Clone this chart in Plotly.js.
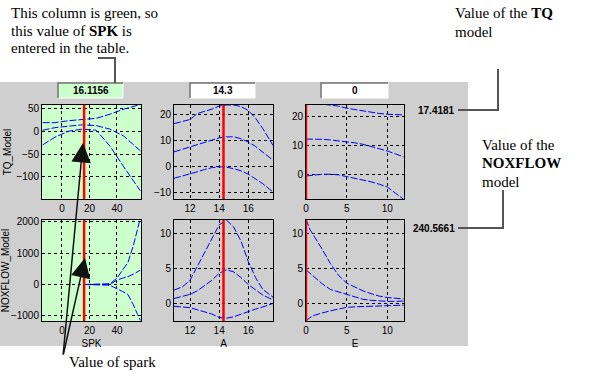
<!DOCTYPE html>
<html><head><meta charset="utf-8">
<script src="https://cdn.plot.ly/plotly-3.0.1.min.js"></script>
<style>html,body{margin:0;padding:0;background:#fff}</style>
</head><body><div id="chart" style="width:594px;height:379px"></div>
<script>
// ---------- data ----------
const factorNames = ["SPK", "A", "E"];
const responseNames = ["TQ_Model", "NOXFLOW_Model"];
const factorValues = [16.1156, 14.3, 0];
const factorValueLabels = ["16.1156", "14.3", "0"];
const responseValueLabels = ["17.4181", "240.5661"];

// TQ vs SPK
const spkTQ = [-14, -5, 5, 15, 25, 35, 45, 57];
const tqSpkMid = [2, 7.6, 10.9, 13.7, 12, 4.3, -10.9, -42.8];
const tqSpkHi = [18.5, 18.5, 22.8, 26, 28, 37, 48, 58];
const tqSpkLo = [-30, -13, 0, 4.3, 2, -33, -78, -130];

// TQ vs A
const aGrid = [10.9, 11.5, 12, 12.5, 13, 13.5, 14, 14.5, 15, 15.5, 16, 16.5, 17, 17.7];
const tqAHi = [16.4, 17.2, 18, 20.3, 21, 22, 23.2, 23.6, 23.6, 23, 21.5, 18.5, 14.5, 8];
const tqAMid = [5.5, 6.6, 7.4, 8.4, 9.3, 10, 10.9, 11.3, 11.3, 10.6, 9.3, 7.6, 5.5, 2.3];
const tqALo = [-4.7, -3.8, -3.2, -2.2, -1.3, -0.6, -0.3, -0.4, -1.0, -1.8, -3.1, -5.0, -6.8, -10];

// TQ vs E
const eGridTQ = [0, 1, 2, 3, 4, 5, 6, 7, 8, 9, 10, 11, 12];
const tqEHi = [24.8, 24.5, 24.1, 23.7, 23.4, 22.7, 22.2, 21.7, 21.3, 20.9, 20.6, 20.5, 20.4];
const tqEMid = [12.1, 12.1, 12, 11.8, 11.5, 11.2, 10.8, 10.3, 9.6, 8.8, 8, 7, 6];
const tqELo = [-0.6, -0.3, 0, 0, -0.2, -0.8, -1.4, -1.9, -2.6, -3.4, -4.4, -6.5, -8.6];

// NOXFLOW vs SPK
const spkNOX = [16.1156, 25, 33, 36, 40, 44, 48, 52, 55, 57];
const noxSpkMid = [0, 0, 5, 30, 140, 200, 250, 330, 400, 455];
const noxSpkHi = [0, 0, 20, 60, 200, 455, 700, 1250, 1750, 2100];
const noxSpkLo = [0, 0, -20, -50, -130, -220, -320, -650, -950, -1140];

// NOXFLOW vs A
const noxAHi = [1.9, 2.4, 3.3, 5.3, 7.2, 9.2, 11.2, 11.9, 10.9, 8.9, 6.0, 3.7, 2.0, 0.9];
const noxAMid = [0.7, 1.0, 1.3, 1.8, 2.5, 3.3, 4.3, 4.8, 4.5, 3.7, 2.7, 1.9, 1.2, 0.5];
const noxALo = [-0.4, -0.5, -0.6, -0.9, -1.2, -1.5, -2.0, -2.1, -1.9, -1.5, -1.1, -0.8, -0.5, 0];

// NOXFLOW vs E
const eGridNOX = [0, 0.5, 1, 1.5, 2, 3, 4, 5, 6, 7, 8, 9, 10, 11, 12];
const noxEHi = [12, 10.5, 9.6, 8.7, 7.7, 5.7, 4.0, 2.9, 2.3, 1.8, 1.4, 1.05, 0.85, 0.72, 0.65];
const noxEMid = [4.8, 4.3, 3.7, 3.2, 2.8, 2.0, 1.65, 1.2, 0.9, 0.6, 0.45, 0.35, 0.3, 0.3, 0.35];
const noxELo = [-2.5, -2.0, -1.7, -1.5, -1.35, -1.05, -0.75, -0.55, -0.48, -0.43, -0.38, -0.33, -0.29, -0.26, -0.24];

// tick values
const spkTicks = [0, 20, 40];
const aTicks = [12, 14, 16];
const eTicks = [0, 5, 10];
const tqSpkTicks = [50, 0, -50, -100];
const tqATicks = [20, 10, 0, -10];
const tqETicks = [20, 10, 0];
const noxSpkTicks = [2000, 1000, 0, -1000];
const noxATicks = [10, 5, 0];
const noxETicks = [10, 5, 0];

// note texts (one entry per line)
const noteGreen = ["This column is green, so", "this value of <b>SPK</b> is", "entered in the table."];
const noteTQ = ["Value of the <b>TQ</b>", "model"];
const noteNOX = ["Value of the", "<b>NOXFLOW</b>", "model"];
const noteSpark = ["Value of spark"];

// ---------- layout helpers ----------
const W = 594, H = 379;
const PX = x => x / W;
const PY = y => 1 - y / H;
const colPx = [[42, 141], [174, 273], [306, 404]];
const rowPx = [[105, 199], [220, 321]];

const blue = {color: "#0000ff", width: 1, dash: "7px,2px"};
function curves(xa, ya, x, lo, mid, hi) {
  return [lo, mid, hi].map(y => ({x: x, y: y, xaxis: xa, yaxis: ya, type: "scatter",
    mode: "lines", line: blue, hoverinfo: "skip", cliponaxis: true}));
}
let data = [];
data = data.concat(curves("x", "y", spkTQ, tqSpkLo, tqSpkMid, tqSpkHi));
data = data.concat(curves("x2", "y2", aGrid, tqALo, tqAMid, tqAHi));
data = data.concat(curves("x3", "y3", eGridTQ, tqELo, tqEMid, tqEHi));
data = data.concat(curves("x4", "y4", spkNOX, noxSpkLo, noxSpkMid, noxSpkHi));
data = data.concat(curves("x5", "y5", aGrid, noxALo, noxAMid, noxAHi));
data = data.concat(curves("x6", "y6", eGridNOX, noxELo, noxEMid, noxEHi));

const sans = "Liberation Sans, Arial, sans-serif";
const tickFont = {family: sans, size: 10, color: "#000"};
const xRanges = [[-14.5, 57.5], [10.9, 17.7], [0, 12.05]];
const yRanges = [[[-148, 57], [-12.7, 23.6], [-8.5, 23.8]], [[-1160, 2050], [-2.5, 11.9], [-2.5, 11.9]]];
const xTicks = [spkTicks, aTicks, eTicks];
const yTicks = [[tqSpkTicks, tqATicks, tqETicks], [noxSpkTicks, noxATicks, noxETicks]];

const layout = {
  width: W, height: H, margin: {l: 0, r: 0, t: 0, b: 0},
  paper_bgcolor: "#ffffff", plot_bgcolor: "#ffffff", showlegend: false,
  font: {family: sans, size: 10, color: "#000"},
  shapes: [], annotations: []
};

for (let r = 0; r < 2; r++) {
  for (let c = 0; c < 3; c++) {
    const i = r * 3 + c + 1;
    const xk = i === 1 ? "xaxis" : "xaxis" + i;
    const yk = i === 1 ? "yaxis" : "yaxis" + i;
    const xn = i === 1 ? "x" : "x" + i;
    const yn = i === 1 ? "y" : "y" + i;
    layout[xk] = {
      domain: [PX(colPx[c][0]), PX(colPx[c][1])], anchor: yn, range: xRanges[c],
      tickvals: xTicks[c], ticks: "", showgrid: true, gridcolor: "#000", griddash: "3px,3px",
      gridwidth: 1, zeroline: false, showline: true, mirror: true, linecolor: "#000",
      linewidth: 1, tickfont: tickFont, fixedrange: true
    };
    if (r === 1) layout[xk].title = {text: factorNames[c], font: {family: sans, size: 10}, standoff: 4};
    layout[yk] = {
      domain: [PY(rowPx[r][1]), PY(rowPx[r][0])], anchor: xn, range: yRanges[r][c],
      tickvals: yTicks[r][c], ticks: "", showgrid: true, gridcolor: "#000", griddash: "3px,3px",
      gridwidth: 1, zeroline: false, showline: true, mirror: true, linecolor: "#000",
      linewidth: 1, tickfont: tickFont, fixedrange: true
    };
    if (c === 0) layout[yk].title = {text: responseNames[r], font: {family: sans, size: 10}, standoff: 2};
    if (c === 0) layout.shapes.push({type: "rect", xref: xn + " domain", yref: yn + " domain",
      x0: 0, x1: 1, y0: 0, y1: 1, fillcolor: "#ccffcc", line: {width: 0}, layer: "below"});
    layout.shapes.push({type: "line", xref: xn, yref: yn + " domain", x0: factorValues[c], x1: factorValues[c],
      y0: 0, y1: 1, line: {color: "#ff0000", width: 2.5}, layer: "above"});
  }
}

// grey panel
layout.shapes.unshift({type: "rect", xref: "paper", yref: "paper", x0: PX(0), x1: PX(468), y0: PY(346), y1: PY(82),
  fillcolor: "#cfcfcf", line: {width: 0}, layer: "below"});

// factor value boxes (sunken edit boxes)
const boxX = [[58, 123], [190, 255], [321, 388]];
boxX.forEach((b, k) => {
  layout.shapes.push({type: "rect", xref: "paper", yref: "paper", x0: PX(b[0]), x1: PX(b[1]), y0: PY(98), y1: PY(83),
    fillcolor: k === 0 ? "#ccffcc" : "#ffffff", line: {color: "#ffffff", width: 1}, layer: "below"});
  layout.shapes.push({type: "path", xref: "paper", yref: "paper",
    path: `M ${PX(b[0])} ${PY(98)} L ${PX(b[0])} ${PY(83)} L ${PX(b[1])} ${PY(83)}`,
    line: {color: "#707070", width: 1.5}, layer: "below"});
  layout.annotations.push({xref: "paper", yref: "paper", x: PX((b[0] + b[1]) / 2), y: PY(90.5), text: "<b>" + factorValueLabels[k] + "</b>",
    showarrow: false, xanchor: "center", yanchor: "middle", font: {family: sans, size: 10, color: "#000"}});
});

// response values
const respY = [110, 228];
respY.forEach((y, k) => {
  layout.annotations.push({xref: "paper", yref: "paper", x: PX(457), y: PY(y), text: "<b>" + responseValueLabels[k] + "</b>",
    showarrow: false, xanchor: "right", yanchor: "middle", font: {family: sans, size: 10, color: "#000"}});
});

// connector lines
const conn = "#555555";
function seg(x0, y0, x1, y1) {
  layout.shapes.push({type: "line", xref: "paper", yref: "paper", x0: PX(x0), y0: PY(y0), x1: PX(x1), y1: PY(y1),
    line: {color: conn, width: 2}, layer: "above"});
}
seg(98, 58, 115, 58); seg(115, 57, 115, 83);
seg(458, 110, 499, 110); seg(498, 111, 498, 69);
seg(458, 228, 504, 228); seg(503, 229, 503, 190);

// notes
const serif = {family: "Liberation Serif, Times New Roman, serif", size: 15, color: "#000"};
function note(lines, x, yCenters) {
  lines.forEach((t, k) => layout.annotations.push({xref: "paper", yref: "paper", x: PX(x), y: PY(yCenters[k]),
    xanchor: "left", yanchor: "middle", align: "left", showarrow: false, font: serif, text: t}));
}
note(noteGreen, 9, [13, 31, 48.5]);
note(noteTQ, 453, [13, 32]);
note(noteNOX, 480, [145, 163.5, 182]);
note(noteSpark, 67, [362]);

// arrows
[[83, 143], [85, 258]].forEach(t => {
  layout.annotations.push({xref: "paper", yref: "paper", x: PX(t[0]), y: PY(t[1]), ax: 63 - t[0], ay: 356 - t[1],
    text: "", showarrow: true, arrowhead: 2, arrowsize: 2.6, arrowwidth: 1.5, arrowcolor: "#111", standoff: 0});
});

Plotly.newPlot("chart", data, layout, {staticPlot: true, displayModeBar: false});
</script></body></html>
